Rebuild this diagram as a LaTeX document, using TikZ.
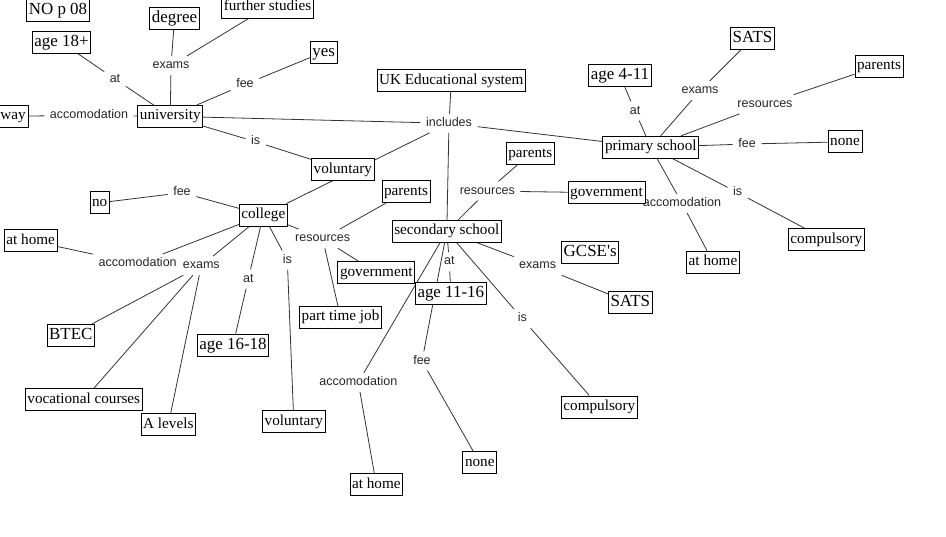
\documentclass[tikz,border=0pt]{standalone}
\usepackage{fontspec}
\setmainfont{Liberation Serif}
\setsansfont{Liberation Sans}
\usetikzlibrary{backgrounds}

\begin{document}
\begin{tikzpicture}[x=0.75pt, y=-0.75pt,
    term/.style={draw, fill=white, line width=0.6pt, inner xsep=1.6pt, inner ysep=0pt,
                 minimum height=16.5pt, text height=8pt, text depth=2.5pt,
                 font=\fontsize{11.4}{13}\selectfont},
    bigterm/.style={term, text height=8.8pt, text depth=2.7pt, font=\fontsize{12.7}{14}\selectfont},
    link/.style={inner xsep=4pt, inner ysep=0pt, minimum height=14pt, text height=6.6pt,
                 text depth=2pt, text=black!85, font=\fontsize{9.4}{11}\sffamily},
    wire/.style={line width=0.6pt, black!80}]

    \useasboundingbox (0,0) rectangle (946,536);
    \clip (0,0) rectangle (946,536);

    % === Root and university branch ===
    \node[bigterm] (nop08) at (58,10) {NO p 08};
    \node[term] (uk) at (451.3,80.8) {UK Educational system};
    \node[link] (incl) at (449,123.3) {includes};

    \node[term] (uni) at (170.3,116.3) {university};
    \node[bigterm] (age18) at (61.5,42.5) {age 18+};
    \node[bigterm] (degree) at (174.5,18.8) {degree};
    \node[term] (further) at (267.5,7) {further studies};
    \node[bigterm] (yes) at (323.7,52) {yes};
    \node[term, anchor=east] (way) at (28.3,116) {way};
    \node[term] (volUp) at (342.8,169.5) {voluntary};
    \node[link] (uniAt) at (115,79) {at};
    \node[link] (uniExams) at (171,65.7) {exams};
    \node[link] (uniFee) at (245,84.3) {fee};
    \node[link] (uniAcc) at (89,115.7) {accomodation};
    \node[link] (uniIs) at (255.7,141.7) {is};

    % === Primary school branch ===
    \node[term] (pri) at (650.8,147.2) {primary school};
    \node[bigterm] (age411) at (620,75.8) {age 4-11};
    \node[bigterm] (satsPri) at (752.5,38.2) {SATS};
    \node[term] (parPri) at (879,66) {parents};
    \node[term] (nonePri) at (845,141.8) {none};
    \node[term] (compPri) at (826.3,239.7) {compulsory};
    \node[term] (homePri) at (713,262) {at home};
    \node[link] (priAt) at (635,111) {at};
    \node[link] (priExams) at (700,90.7) {exams};
    \node[link] (priRes) at (765,104.3) {resources};
    \node[link] (priFee) at (747,144) {fee};
    \node[link] (priIs) at (737.7,192.7) {is};
    \node[link] (priAcc) at (682,203.3) {accomodation};

    % === College branch ===
    \node[term] (col) at (263.3,215) {college};
    \node[term] (no) at (99.7,202.8) {no};
    \node[term] (homeCol) at (30.7,240.8) {at home};
    \node[bigterm] (btec) at (70.8,335.2) {BTEC};
    \node[term] (voc) at (83.8,399.7) {vocational courses};
    \node[term] (alev) at (168.3,424.8) {A levels};
    \node[bigterm] (age1618) at (233,345) {age 16-18};
    \node[term] (volCol) at (293.8,421.7) {voluntary};
    \node[term] (parCol) at (406,191.8) {parents};
    \node[term] (govCol) at (376.3,272.5) {government};
    \node[term] (job) at (340.5,317.3) {part time job};
    \node[link] (colFee) at (182,192.7) {fee};
    \node[link] (colAcc) at (137.7,263.7) {accomodation};
    \node[link] (colExams) at (201.3,265.7) {exams};
    \node[link] (colAt) at (248.3,279) {at};
    \node[link] (colIs) at (287.3,260) {is};
    \node[link] (colRes) at (322.7,238.7) {resources};

    % === Secondary school branch ===
    \node[term] (sec) at (446.8,231.2) {secondary school};
    \node[term] (parSec) at (530.3,153.8) {parents};
    \node[term] (govSec) at (606.5,192.8) {government};
    \node[bigterm] (age1116) at (450.8,293.2) {age 11-16};
    \node[bigterm] (gcse) at (590.2,252.8) {GCSE\textquotesingle s};
    \node[bigterm] (satsSec) at (630.3,302.8) {SATS};
    \node[term] (compSec) at (599.3,407) {compulsory};
    \node[term] (noneSec) at (479.8,462.8) {none};
    \node[term] (homeSec) at (376.3,484.7) {at home};
    \node[link] (secRes) at (487.3,191) {resources};
    \node[link] (secAt) at (449.3,261.7) {at};
    \node[link] (secExams) at (537.7,265.7) {exams};
    \node[link] (secIs) at (522.3,318.7) {is};
    \node[link] (secFee) at (422,361) {fee};
    \node[link] (secAcc) at (358.3,382.3) {accomodation};

    % === Connectors (behind the boxes) ===
    \begin{scope}[on background layer]
      \foreach \a/\b in {uni/uniAt, uniAt/age18, uni/uniExams, uniExams/degree,
          uniExams/further, uni/uniFee, uniFee/yes, uni/uniAcc, uniAcc/way,
          uni/uniIs, uniIs/volUp,
          uk/incl, incl/uni, incl/pri, incl/col, incl/sec,
          pri/priAt, priAt/age411, pri/priExams, priExams/satsPri, pri/priRes,
          priRes/parPri, pri/priFee, priFee/nonePri, pri/priIs, priIs/compPri,
          pri/priAcc, priAcc/homePri,
          col/colFee, colFee/no, col/colAcc, colAcc/homeCol, col/colExams,
          colExams/btec, colExams/voc, colExams/alev, col/colAt, colAt/age1618,
          col/colIs, colIs/volCol, col/colRes, colRes/parCol, colRes/govCol,
          colRes/job,
          sec/secRes, secRes/parSec, secRes/govSec, sec/secAt, secAt/age1116,
          sec/secExams, secExams/gcse, secExams/satsSec, sec/secIs,
          secIs/compSec, sec/secFee, secFee/noneSec, sec/secAcc, secAcc/homeSec} {
        \draw[wire] (\a) -- (\b);
      }
    \end{scope}
\end{tikzpicture}
\end{document}
